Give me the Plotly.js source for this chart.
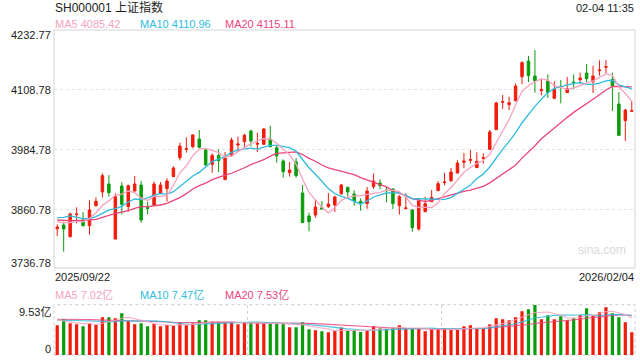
<!DOCTYPE html>
<html><head><meta charset="utf-8">
<script src="https://cdn.plot.ly/plotly-3.0.1.min.js"></script>
<style>html,body{margin:0;padding:0;background:#fff;}#chart{width:640px;height:360px;}</style>
</head><body><div id="chart"></div>
<script>
// ---- data ----
const openP = [3822.2,3829.8,3805.7,3851.1,3840.1,3828.4,3869.7,3898.0,3914.5,3800.8,
3910.4,3867.7,3900.0,3912.4,3866.3,3871.1,3895.2,3904.9,3929.7,3968.9,
3986.1,3991.7,4007.5,3984.8,3955.1,3973.7,3923.5,3973.0,3995.1,4002.0,
4024.0,3996.5,3996.5,4007.5,3989.6,3962.0,3937.9,3960.0,3895.9,3848.4,
3850.4,3865.6,3867.7,3871.1,3894.5,3907.6,3893.8,3878.7,3873.9,3909.0,
3916.6,3902.1,3904.2,3869.7,3863.5,3860.8,3821.5,3857.3,3878.0,3900.7,
3917.3,3921.4,3937.2,3959.3,3963.4,3948.3,3967.5,3986.1,4026.8,4083.3,
4078.5,4086.7,4136.3,4168.7,4137.7,4107.4,4127.4,4091.5,4116.3,4103.3,
4125.3,4130.1,4143.9,4126.0,4148.7,4155.6,4130.8,4079.8,4045.4,4064.7];
const highP = [3831.1,3836.6,3855.3,3866.3,3856.6,3880.7,3886.9,3936.5,3933.1,3895.2,
3917.9,3913.1,3931.0,3920.7,3878.0,3919.3,3918.6,3926.2,3951.0,3999.9,
4010.9,4017.1,4026.1,3988.2,3977.9,3986.1,3980.6,4010.3,4012.3,4018.5,
4026.8,4020.6,4030.2,4035.1,3993.0,3965.5,3960.0,3968.2,3912.4,3855.3,
3881.4,3879.4,3895.9,3890.4,3914.5,3909.0,3901.4,3884.9,3908.3,3936.5,
3924.1,3909.0,3905.5,3891.8,3895.2,3862.1,3884.9,3888.3,3902.1,3920.7,
3937.2,3947.6,3963.4,3978.6,3984.8,3979.9,3977.9,4026.1,4084.7,4098.4,
4095.0,4122.5,4168.0,4179.0,4191.4,4131.5,4141.1,4126.7,4129.4,4135.6,
4141.1,4144.6,4162.5,4159.1,4170.1,4170.8,4144.6,4104.6,4069.5,4086.7];
const lowP = [3807.0,3774.7,3804.3,3833.2,3826.5,3809.8,3867.7,3886.3,3888.3,3800.1,
3851.8,3857.3,3898.7,3834.6,3851.8,3869.0,3893.8,3878.0,3929.0,3963.4,
3979.3,3988.2,3988.2,3953.1,3937.9,3939.3,3922.8,3971.0,3980.6,3990.3,
3992.3,3980.6,3995.1,3990.5,3958.6,3927.6,3929.7,3927.6,3833.9,3816.7,
3844.9,3862.1,3864.9,3856.6,3891.8,3888.3,3869.7,3859.4,3863.5,3904.2,
3903.5,3876.6,3862.8,3851.1,3862.8,3816.0,3818.1,3856.6,3877.3,3900.0,
3911.7,3918.6,3936.5,3946.9,3957.2,3947.6,3956.5,3985.4,4026.1,4069.5,
4067.4,4085.3,4120.5,4125.3,4103.3,4097.7,4092.2,4090.9,4081.2,4102.6,
4110.1,4121.2,4124.6,4102.6,4138.4,4143.2,4065.4,4013.7,4003.4,4063.3];
const closeP = [3825.6,3821.5,3852.5,3852.5,3828.4,3860.8,3878.7,3931.7,3896.6,3888.3,
3872.5,3911.1,3914.5,3840.1,3864.2,3914.5,3912.4,3920.7,3947.6,3993.0,
3987.5,4015.8,3990.3,3953.8,3973.7,3962.7,3968.2,4005.4,3997.2,4015.1,
4003.4,3998.5,4028.2,3991.7,3972.4,3940.0,3943.4,3931.7,3834.6,3836.6,
3867.0,3862.8,3873.2,3887.6,3912.4,3898.0,3879.4,3875.9,3900.0,3920.7,
3911.1,3900.7,3873.9,3888.3,3864.9,3824.3,3879.4,3873.9,3886.9,3915.2,
3918.6,3939.3,3957.9,3962.0,3964.8,3961.3,3968.9,4022.0,4081.9,4084.7,
4082.6,4117.0,4165.3,4138.4,4127.4,4110.1,4103.9,4110.1,4115.0,4111.5,
4123.9,4133.6,4132.2,4137.7,4150.1,4157.0,4117.7,4015.1,4067.4,4066.0];
const ma5 = [3836.6,3834.6,3834.6,3837.3,3836.1,3843.1,3854.6,3870.4,3879.2,3891.2,
3893.6,3900.0,3896.6,3885.3,3880.5,3888.9,3889.1,3890.4,3911.9,3937.6,
3952.2,3972.9,3986.8,3988.1,3984.2,3979.3,3969.7,3972.8,3981.4,3989.7,
3997.9,4003.9,4008.5,4007.4,3998.8,3986.2,3975.1,3955.8,3924.4,3897.3,
3882.7,3866.5,3854.8,3865.4,3880.6,3886.8,3890.1,3890.7,3893.1,3894.8,
3897.4,3901.7,3901.3,3898.9,3887.8,3870.4,3866.2,3866.2,3865.9,3875.9,
3894.8,3906.8,3923.6,3938.6,3948.5,3957.1,3963.0,3975.8,3999.8,4023.8,
4048.0,4077.6,4106.3,4117.6,4126.1,4131.6,4129.0,4118.0,4113.3,4110.1,
4112.9,4118.8,4123.2,4127.8,4135.5,4142.1,4138.9,4115.5,4101.5,4085.42];
const ma10 = [3844.9,3845.6,3848.4,3845.6,3842.8,3842.8,3847.0,3853.9,3860.8,3863.7,
3868.4,3877.3,3883.5,3882.3,3885.9,3891.3,3894.6,3893.5,3898.6,3909.1,
3920.6,3931.0,3938.6,3950.0,3960.9,3965.8,3971.3,3979.8,3984.8,3987.0,
3988.6,3986.8,3990.7,3994.4,3994.3,3992.1,3989.5,3982.2,3965.9,3948.1,
3934.5,3920.8,3905.3,3894.9,3889.0,3884.8,3878.3,3872.8,3879.3,3887.7,
3892.1,3895.9,3896.0,3896.0,3891.3,3883.9,3884.0,3883.8,3882.4,3881.9,
3882.6,3886.5,3894.9,3902.3,3912.2,3926.0,3934.9,3949.7,3969.2,3986.2,
4002.6,4020.3,4041.1,4058.7,4075.0,4089.8,4103.3,4112.2,4115.5,4118.1,
4122.3,4123.9,4120.6,4120.6,4122.8,4127.5,4128.9,4119.4,4114.7,4110.96];
const ma20 = [3840.1,3838.7,3838.7,3838.7,3838.7,3840.1,3841.5,3845.6,3850.4,3853.9,
3856.6,3859.4,3864.2,3867.7,3867.7,3869.0,3871.1,3874.5,3880.0,3886.4,
3894.5,3904.2,3911.1,3916.2,3923.4,3928.6,3933.0,3936.7,3941.7,3948.1,
3954.6,3958.9,3964.7,3972.2,3977.6,3979.0,3980.4,3981.0,3975.4,3967.6,
3961.6,3953.8,3948.0,3944.7,3941.7,3938.5,3933.9,3927.5,3922.6,3917.9,
3913.3,3908.4,3900.7,3895.5,3890.2,3884.4,3881.2,3878.3,3880.9,3884.8,
3887.4,3891.2,3895.5,3899.2,3901.8,3905.0,3909.5,3916.8,3925.8,3934.1,
3942.6,3953.4,3968.0,3980.5,3993.6,4007.9,4019.1,4031.0,4042.4,4052.2,
4062.5,4072.1,4080.9,4089.7,4098.9,4108.7,4116.1,4115.8,4115.1,4115.11];
// volume in 亿
const volume = [5.65,6.86,6.04,5.84,5.46,5.97,5.72,7.18,7.18,6.99,
7.94,6.48,5.84,6.04,5.46,5.91,5.46,5.72,5.53,6.16,
5.72,6.04,6.61,6.61,6.35,6.23,6.23,6.23,5.84,6.23,
6.04,6.10,6.10,6.10,6.04,6.04,5.27,5.27,6.23,4.89,
4.70,4.51,4.32,4.57,5.21,4.57,4.70,4.38,4.76,5.46,
5.08,4.89,5.21,5.65,5.08,5.08,5.08,4.51,4.89,4.96,
5.08,4.76,4.76,5.46,5.65,5.08,5.08,5.84,6.99,6.80,
6.61,7.18,8.32,8.70,9.53,6.80,7.56,6.80,7.37,6.61,
6.99,7.56,8.89,7.56,8.13,9.08,7.94,7.18,6.23,4.32];
const volMa5 = [6.60,6.50,6.30,6.10,5.97,6.03,5.81,6.03,6.30,6.61,
7.00,7.15,6.89,6.66,6.35,5.95,5.74,5.72,5.62,5.76,
5.72,5.83,6.01,6.23,6.27,6.37,6.41,6.33,6.18,6.15,
6.11,6.09,6.06,6.11,6.08,6.08,5.91,5.74,5.77,5.54,
5.27,5.12,4.93,4.60,4.66,4.64,4.67,4.69,4.72,4.77,
4.88,4.91,5.08,5.26,5.18,5.18,5.22,5.08,4.93,4.90,
4.90,4.84,4.89,5.00,5.14,5.14,5.21,5.42,5.73,5.96,
6.26,6.68,7.18,7.52,8.07,8.11,8.18,7.88,7.61,7.03,
7.07,7.07,7.48,7.52,7.83,8.24,8.32,7.98,7.71,7.02];
const volMa10 = [6.60,6.62,6.58,6.55,6.50,6.44,6.40,6.36,6.32,6.29,
6.52,6.48,6.46,6.48,6.48,6.48,6.45,6.31,6.14,6.06,
5.84,5.79,5.87,5.93,6.02,6.05,6.12,6.17,6.21,6.21,
6.24,6.25,6.20,6.15,6.12,6.10,6.00,5.90,5.94,5.81,
5.68,5.52,5.34,5.19,5.10,4.96,4.90,4.81,4.66,4.72,
4.76,4.79,4.89,4.99,4.98,5.03,5.07,5.08,5.10,5.04,
5.04,5.03,4.99,4.97,5.02,5.02,5.03,5.16,5.37,5.55,
5.70,5.95,6.30,6.63,7.02,7.19,7.43,7.53,7.57,7.55,
7.59,7.63,7.68,7.57,7.43,7.66,7.70,7.73,7.62,7.47];
const volMa20 = [6.80,6.82,6.79,6.77,6.74,6.73,6.70,6.67,6.66,6.62,
6.60,6.55,6.52,6.46,6.42,6.36,6.31,6.27,6.21,6.18,
6.18,6.14,6.17,6.21,6.25,6.27,6.29,6.24,6.18,6.14,
6.04,6.02,6.04,6.04,6.07,6.08,6.06,6.04,6.08,6.01,
5.96,5.89,5.77,5.67,5.61,5.53,5.45,5.36,5.30,5.27,
5.22,5.16,5.12,5.09,5.04,5.00,4.99,4.95,4.88,4.88,
4.90,4.91,4.94,4.98,5.00,5.03,5.05,5.12,5.24,5.30,
5.37,5.49,5.65,5.80,6.02,6.11,6.23,6.35,6.47,6.55,
6.65,6.79,6.99,7.10,7.23,7.43,7.57,7.63,7.60,7.53];
const priceTicks = [4232.77, 4108.78, 3984.78, 3860.78, 3736.78];
const priceTickText = ['4232.77', '4108.78', '3984.78', '3860.78', '3736.78'];
const volTicks = [9.53, 0];
const volTickText = ['9.53亿', '0'];
const dateLabels = ['2025/09/22', '2026/02/04'];
const titleText = 'SH000001 上证指数';
const timeText = '02-04 11:35';
const maLegend = ['MA5 4085.42', 'MA10 4110.96', 'MA20 4115.11'];
const volLegend = ['MA5 7.02亿', 'MA10 7.47亿', 'MA20 7.53亿'];

// ---- styling ----
const UP = '#f21c0c', DOWN = '#0a9c0a';
const C5 = '#f7a3c0', C10 = '#2fbbdd', C20 = '#ec457c';
const FONT = 'Liberation Sans, Arial, Noto Sans CJK SC, sans-serif';
const idx = closeP.map((_, i) => i);
const volColors = closeP.map((c, i) => c >= openP[i] ? UP : DOWN);

const traces = [
  {type: 'candlestick', x: idx, open: openP, high: highP, low: lowP, close: closeP,
   xaxis: 'x', yaxis: 'y', whiskerwidth: 0, hoverinfo: 'skip',
   increasing: {line: {color: UP, width: 1}, fillcolor: UP},
   decreasing: {line: {color: DOWN, width: 1}, fillcolor: DOWN}},
  {type: 'scatter', mode: 'lines', x: idx, y: ma20, xaxis: 'x', yaxis: 'y', line: {color: C20, width: 1.3}, hoverinfo: 'skip'},
  {type: 'scatter', mode: 'lines', x: idx, y: ma10, xaxis: 'x', yaxis: 'y', line: {color: C10, width: 1.3}, hoverinfo: 'skip'},
  {type: 'scatter', mode: 'lines', x: idx, y: ma5, xaxis: 'x', yaxis: 'y', line: {color: C5, width: 1.3}, hoverinfo: 'skip'},
  {type: 'bar', x: idx, y: volume, xaxis: 'x2', yaxis: 'y2', width: 0.5, marker: {color: volColors, line: {width: 0}}, hoverinfo: 'skip'},
  {type: 'scatter', mode: 'lines', x: idx, y: volMa20, xaxis: 'x2', yaxis: 'y2', line: {color: C20, width: 1.1}, opacity: 0.85, hoverinfo: 'skip'},
  {type: 'scatter', mode: 'lines', x: idx, y: volMa10, xaxis: 'x2', yaxis: 'y2', line: {color: C10, width: 1.1}, opacity: 0.85, hoverinfo: 'skip'},
  {type: 'scatter', mode: 'lines', x: idx, y: volMa5, xaxis: 'x2', yaxis: 'y2', line: {color: C5, width: 1.1}, opacity: 0.85, hoverinfo: 'skip'}
];

const L = 54, R = 635, T = 30, B = 355;
const px = p => (p - L) / (R - L);
const py = p => (B - p) / (B - T);
function txt(text, x, y, color, size, xanchor) {
  return {xref: 'paper', yref: 'paper', x: px(x), y: py(y), text: text, showarrow: false,
    xanchor: xanchor || 'left', yanchor: 'middle', borderpad: 0, borderwidth: 0,
    font: {family: FONT, size: size || 11, color: color || '#222'}};
}
const annotations = [
  txt(titleText, 55, 8, '#222', 12, 'left'),
  txt(timeText, 634, 8, '#222', 11, 'right'),
  txt(maLegend[0], 55, 24, C5, 11), txt(maLegend[1], 140, 24, C10, 11), txt(maLegend[2], 225, 24, C20, 11),
  txt(dateLabels[0], 55, 277, '#222', 11, 'left'),
  txt(dateLabels[1], 634, 277, '#222', 11, 'right'),
  txt(volLegend[0], 55, 295, C5, 11), txt(volLegend[1], 140, 295, C10, 11), txt(volLegend[2], 225, 295, C20, 11),
  txt('sina.com', 602, 250, '#d9d9d9', 12, 'center')
];
const shifts = [-5, 0, 0, 0, 5];
priceTicks.forEach((v, i) => {
  const a = {xref: 'paper', x: 0, xanchor: 'right', xshift: -3, yanchor: 'middle', showarrow: false,
    text: priceTickText[i], borderpad: 0, borderwidth: 0, font: {family: FONT, size: 11, color: '#222'}};
  if (i === priceTicks.length - 1) { a.yref = 'y domain'; a.y = 0; a.yshift = shifts[i]; }
  else { a.yref = 'y'; a.y = v; a.yshift = shifts[i]; }
  annotations.push(a);
});
volTicks.forEach((v, i) => {
  annotations.push({xref: 'paper', x: 0, xanchor: 'right', xshift: -3, yref: 'y2', y: v,
    yshift: i === 0 ? -7 : 6.5, yanchor: 'middle', showarrow: false, text: volTickText[i],
    borderpad: 0, borderwidth: 0, font: {family: FONT, size: 11, color: '#222'}});
});

const layout = {
  width: 640, height: 360, margin: {l: L, r: 640 - R, t: T, b: 360 - B},
  paper_bgcolor: '#fff', plot_bgcolor: '#fff', showlegend: false, hovermode: false,
  boxgap: 0.45,
  xaxis: {domain: [0, 1], anchor: 'y', range: [-0.5, 89.5], showgrid: false, zeroline: false,
    showticklabels: false, ticks: '', rangeslider: {visible: false}, fixedrange: true},
  yaxis: {domain: [py(268), 1], anchor: 'x', range: [3740.9, 4232.77], tickvals: priceTicks.slice(1, 4),
    showticklabels: false, ticks: '', gridcolor: '#e0e0e0', griddash: 'dot', gridwidth: 1, zeroline: false, fixedrange: true},
  xaxis2: {domain: [0, 1], anchor: 'y2', range: [-0.5, 89.5], tickvals: [29.5, 59.5], showgrid: true,
    gridcolor: '#d0d0d0', griddash: 'dot', gridwidth: 1, showticklabels: false, ticks: '', zeroline: false, fixedrange: true},
  yaxis2: {domain: [0, py(304.7)], anchor: 'x2', range: [0, 9.56], showgrid: false, zeroline: false,
    showticklabels: false, ticks: '', fixedrange: true},
  shapes: [
    {type: 'rect', xref: 'x domain', yref: 'y domain', x0: 0, x1: 1, y0: 0, y1: 1, line: {color: '#d4d4d4', width: 1}, layer: 'above'},
    {type: 'rect', xref: 'x2 domain', yref: 'y2 domain', x0: 0, x1: 1, y0: 0, y1: 1, line: {color: '#cccccc', width: 1, dash: 'dot'}, layer: 'below'}
  ],
  annotations: annotations
};
Plotly.newPlot('chart', traces, layout, {staticPlot: true, displayModeBar: false});
</script></body></html>
